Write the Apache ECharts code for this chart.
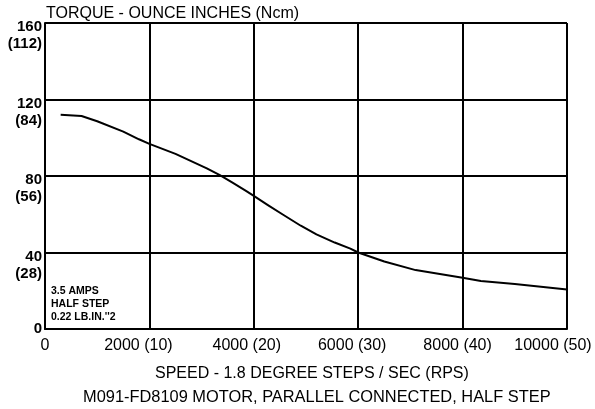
<!DOCTYPE html>
<html>
<head>
<meta charset="utf-8">
<script src="https://cdn.jsdelivr.net/npm/echarts@6/dist/echarts.min.js"></script>
<style>html,body{margin:0;padding:0;background:#fff}#c{width:595px;height:409px}</style>
</head>
<body>
<div id="c"></div>
<script>
const speedSteps = [300, 700, 1000, 1500, 1800, 2000, 2500, 3100, 3350, 3600, 3850, 4000, 4270, 4570, 4900, 5200, 5550, 5850, 6000, 6500, 7100, 8000, 8350, 9000, 10000];
const torqueOzIn = [112, 111.4, 108.6, 103.2, 99.2, 96.8, 91.6, 84, 80.4, 76.4, 72.2, 69.6, 64.8, 59.6, 54, 49.5, 45.2, 42, 40, 35.3, 30.8, 26.8, 25.1, 23.5, 20.7];
const xTickLabels = {0: '0', 2000: '2000 (10)', 4000: '4000 (20)', 6000: '6000 (30)', 8000: '8000 (40)', 10000: '10000 (50)'};
const yTickLabels = {0: ['0'], 40: ['40', '(28)'], 80: ['80', '(56)'], 120: ['120', '(84)'], 160: ['160', '(112)']};
const yTitle = 'TORQUE - OUNCE INCHES (Ncm)';
const xTitle = 'SPEED - 1.8 DEGREE STEPS / SEC (RPS)';
const caption = 'M091-FD8109 MOTOR, PARALLEL CONNECTED, HALF STEP';
const noteLines = ['3.5 AMPS', 'HALF STEP', "0.22 LB.IN.''2"];

const FONT = '"Liberation Sans", Arial, sans-serif';
const chart = echarts.init(document.getElementById('c'), null, {renderer: 'canvas'});
const xShift = {0: 0, 2000: 11, 4000: 7, 6000: 6, 8000: 5, 10000: 14};
const xRich = {};
Object.keys(xShift).forEach(k => {
  xRich['x' + k] = {fontFamily: FONT, fontSize: 16, color: '#000', padding: [0, xShift[k] * 2, 0, 0]};
});
const tStyle = {fontFamily: FONT, fontSize: 16, fontWeight: 'normal', color: '#000'};
chart.setOption({
  animation: false,
  backgroundColor: '#fff',
  grid: {left: 45, right: 28, top: 23, bottom: 80, containLabel: false},
  title: [
    {text: yTitle, left: 46, top: 6, padding: 0, textStyle: tStyle},
    {text: xTitle, left: 155, top: 366, padding: 0, textStyle: tStyle},
    {text: caption, left: 83, top: 389, padding: 0, textStyle: Object.assign({}, tStyle, {fontSize: 16.4})},
    {text: noteLines.join('\n'), left: 51, top: 285, padding: 0, textStyle: {fontFamily: FONT, fontSize: 10.5, fontWeight: 'bold', color: '#000', lineHeight: 12.8}}
  ],
  xAxis: {
    type: 'value', min: 0, max: 10000, interval: 2000,
    axisLine: {show: true, lineStyle: {color: '#000', width: 2}},
    axisTick: {show: false},
    splitLine: {show: true, lineStyle: {color: '#000', width: 2}},
    axisLabel: {
      margin: 9,
      formatter: v => '{x' + v + '|' + xTickLabels[v] + '}',
      rich: xRich
    }
  },
  yAxis: {
    type: 'value', min: 0, max: 160, interval: 40,
    axisLine: {show: true, lineStyle: {color: '#000', width: 2}},
    axisTick: {show: false},
    splitLine: {show: true, lineStyle: {color: '#000', width: 2}},
    axisLabel: {
      margin: 3,
      verticalAlign: 'middle',
      align: 'right',
      formatter: v => {
        const l = yTickLabels[v];
        if (l.length === 1) return '{a|' + l[0] + '}';
        return '{s| }\n{a|' + l[0] + '}\n{a|' + l[1] + '}';
      },
      rich: {
        a: {fontFamily: FONT, fontSize: 15, fontWeight: 'bold', color: '#000', lineHeight: 17, align: 'right'},
        s: {fontSize: 1, lineHeight: 25}
      }
    }
  },
  series: [{
    type: 'line',
    data: speedSteps.map((x, i) => [x, torqueOzIn[i]]),
    showSymbol: false,
    smooth: false,
    lineStyle: {color: '#000', width: 2, join: 'round'},
    z: 5
  }]
});
</script>
</body>
</html>
